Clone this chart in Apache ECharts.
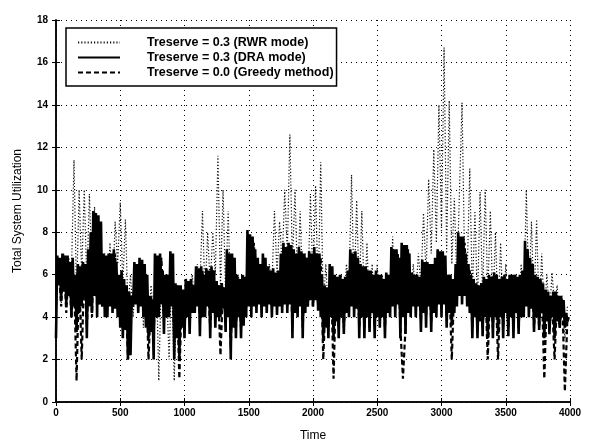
<!DOCTYPE html>
<html>
<head>
<meta charset="utf-8">
<script src="https://cdn.jsdelivr.net/npm/echarts@6/dist/echarts.min.js"></script>
<style>
  html, body { margin: 0; padding: 0; background: #fff; }
  #chart { width: 591px; height: 447px; }
</style>
</head>
<body>
<div id="chart"></div>
<script>
// DRA sampled every 10 time units, the other two every 20
const draStep = 10
const otherStep = 20
const xTicks = [0, 500, 1000, 1500, 2000, 2500, 3000, 3500, 4000]
const yTicks = [0, 2, 4, 6, 8, 10, 12, 14, 16, 18]

const rwrValues = [
  4.0, 6.5, 4.5, 7.0, 5.0, 6.8, 6.0, 11.4, 5.0, 10.0,
  6.0, 10.0, 5.5, 9.8, 6.0, 9.2, 5.0, 8.0, 4.5, 7.0,
  4.5, 7.5, 5.0, 8.5, 6.5, 9.4, 5.5, 8.6, 4.5, 6.0,
  4.0, 6.0, 4.2, 6.5, 3.5, 6.0, 3.5, 5.5, 4.0, 6.5,
  1.0, 6.0, 3.5, 5.5, 2.0, 6.0, 1.0, 5.5, 3.5, 5.0,
  4.0, 5.5, 4.0, 6.0, 4.5, 6.5, 5.5, 9.0, 5.0, 8.0,
  5.5, 8.0, 6.0, 11.6, 5.5, 10.0, 5.0, 9.0, 4.5, 6.5,
  4.0, 6.0, 4.0, 6.0, 4.5, 7.5, 5.0, 7.0, 4.5, 6.0,
  4.5, 6.0, 4.5, 6.5, 5.5, 9.0, 6.0, 8.5, 6.5, 10.0,
  7.0, 12.6, 6.5, 10.0, 5.5, 9.0, 5.0, 7.0, 5.0, 9.8,
  5.5, 10.2, 5.0, 11.3, 4.5, 6.5, 4.0, 6.0, 3.5, 5.8,
  4.0, 6.0, 4.5, 6.5, 5.5, 10.7, 5.0, 9.5, 5.0, 9.0,
  4.5, 7.5, 4.0, 6.5, 4.0, 6.5, 4.0, 6.0, 4.0, 6.0,
  4.5, 7.8, 4.5, 7.0, 4.0, 6.5, 4.0, 6.5, 4.5, 6.5,
  5.0, 7.0, 5.5, 8.9, 6.0, 10.5, 7.0, 11.9, 7.5, 14.0,
  8.0, 16.7, 7.0, 14.2, 6.5, 9.6, 5.5, 10.0, 14.1, 6.5,
  6.0, 11.0, 5.0, 9.0, 4.5, 9.9, 5.0, 10.0, 5.0, 9.0,
  4.5, 8.0, 4.0, 7.5, 4.0, 6.5, 4.0, 6.0, 4.0, 6.0,
  4.0, 6.5, 4.5, 10.0, 5.0, 8.5, 4.5, 8.6, 4.0, 7.0,
  4.0, 6.0, 4.0, 6.1, 4.5, 5.5, 3.5, 5.0, 3.0, 4.5
]

const draValues = [
  3.0, 6.9, 5.5, 6.8, 4.8, 7.0, 5.2, 6.9, 4.6, 6.9, 5.0, 6.6, 4.0, 6.8, 4.5, 6.0, 3.3, 6.5, 4.2, 6.4,
  4.5, 6.6, 5.0, 6.5, 3.0, 7.2, 4.5, 8.0, 4.2, 9.0, 5.0, 8.9, 4.0, 8.8, 4.6, 8.5, 4.5, 7.0, 4.0, 6.9,
  4.0, 7.0, 4.5, 7.0, 4.2, 7.2, 4.4, 6.6, 4.0, 6.0, 3.5, 6.2, 3.0, 5.8, 3.4, 5.5, 2.0, 5.2, 2.2, 5.0,
  4.5, 6.6, 4.6, 6.5, 4.2, 6.8, 4.5, 6.7, 4.0, 6.5, 3.5, 6.0, 3.0, 5.0, 3.3, 4.8, 2.0, 7.0, 4.0, 6.9,
  4.0, 7.0, 4.6, 6.2, 3.2, 6.0, 4.0, 6.0, 4.0, 7.1, 4.5, 7.0, 2.0, 5.6, 3.0, 5.5, 2.0, 5.5, 3.5, 5.3,
  3.0, 5.8, 4.0, 5.7, 3.2, 5.8, 4.2, 5.5, 4.2, 6.4, 4.5, 6.3, 3.1, 6.4, 4.0, 6.0, 4.0, 6.3, 4.5, 6.2,
  3.0, 6.4, 4.2, 6.2, 3.5, 5.7, 4.0, 5.5, 4.0, 5.6, 4.4, 5.4, 3.3, 7.2, 4.0, 7.0, 2.0, 7.0, 3.5, 6.8,
  3.0, 6.0, 4.0, 5.8, 3.0, 6.0, 3.6, 5.9, 4.0, 8.1, 4.5, 7.9, 4.0, 7.8, 4.5, 7.2, 4.2, 6.8, 4.6, 6.5,
  4.0, 7.0, 4.5, 6.8, 4.2, 6.4, 4.6, 6.2, 4.0, 6.3, 4.5, 6.1, 4.1, 6.2, 4.5, 7.0, 4.2, 7.5, 4.6, 7.3,
  4.2, 7.5, 4.6, 7.4, 3.0, 7.2, 4.2, 7.0, 4.0, 7.3, 4.5, 7.1, 3.0, 7.0, 4.2, 6.8, 4.5, 7.1, 4.8, 7.0,
  4.5, 7.3, 4.8, 7.0, 4.3, 7.0, 4.0, 6.0, 3.0, 5.5, 3.5, 5.4, 3.0, 6.5, 4.0, 6.4, 3.0, 6.0, 3.8, 5.9,
  3.0, 6.0, 4.0, 5.8, 3.2, 5.9, 4.2, 6.2, 4.0, 7.2, 4.5, 7.0, 4.0, 7.1, 4.4, 6.8, 3.0, 6.5, 4.0, 6.4,
  3.0, 6.4, 4.0, 6.2, 3.3, 6.2, 4.2, 6.0, 3.0, 6.2, 4.0, 6.0, 3.5, 6.0, 4.0, 5.8, 3.0, 6.1, 4.2, 6.0,
  4.0, 7.3, 4.5, 7.2, 4.0, 7.2, 4.6, 6.8, 3.0, 7.5, 4.0, 7.4, 3.2, 7.4, 4.2, 7.0, 4.0, 6.1, 4.5, 6.0,
  4.0, 6.0, 4.5, 5.9, 3.3, 6.7, 4.2, 6.6, 3.5, 6.6, 4.5, 6.5, 3.3, 6.5, 4.2, 6.8, 4.0, 7.2, 4.6, 7.1,
  4.0, 7.1, 4.6, 6.9, 3.5, 6.0, 4.2, 6.0, 3.6, 5.8, 4.2, 6.5, 4.5, 8.0, 5.0, 7.8, 4.6, 7.8, 5.0, 7.0,
  4.5, 6.5, 4.2, 6.0, 3.0, 5.8, 4.0, 5.6, 3.0, 5.5, 3.8, 5.6, 3.1, 5.9, 4.0, 5.8, 3.0, 6.0, 4.0, 5.9,
  3.0, 6.1, 4.0, 6.0, 3.2, 5.8, 4.0, 5.9, 3.0, 6.0, 4.2, 5.8, 3.1, 6.0, 4.0, 6.0, 3.0, 6.0, 4.2, 5.9,
  3.2, 6.0, 4.0, 6.2, 4.0, 7.6, 4.5, 7.2, 4.0, 6.8, 4.4, 6.5, 3.3, 6.0, 4.0, 5.9, 3.4, 5.8, 4.2, 5.6,
  3.0, 5.3, 3.8, 5.2, 3.2, 5.0, 4.0, 5.2, 3.0, 5.2, 3.8, 5.0, 3.5, 5.0, 4.0, 4.8, 3.5, 4.2, 3.8, 4.0
]

const greedyValues = [
  5.0, 6.5, 4.5, 6.8, 4.2, 6.5, 4.0, 6.0, 1.0, 6.2,
  2.0, 6.4, 3.5, 7.0, 4.0, 8.5, 4.5, 8.0, 4.5, 6.8,
  4.5, 6.8, 4.5, 7.0, 4.5, 5.8, 3.5, 5.5, 2.0, 5.0,
  4.5, 6.5, 4.5, 6.6, 4.5, 6.0, 2.0, 5.0, 3.0, 6.8,
  4.5, 6.8, 4.0, 6.0, 4.5, 6.8, 3.0, 5.5, 1.1, 5.2,
  3.5, 5.5, 4.0, 5.6, 4.5, 6.2, 4.0, 6.2, 4.5, 6.0,
  3.5, 6.2, 4.0, 5.5, 2.2, 5.4, 4.0, 7.0, 2.5, 6.8,
  3.5, 5.8, 3.5, 5.8, 4.5, 7.8, 4.5, 7.5, 4.5, 6.5,
  4.5, 6.8, 4.5, 6.2, 4.5, 6.0, 4.5, 6.0, 4.5, 7.2,
  4.5, 7.2, 3.5, 7.0, 4.5, 7.0, 3.5, 6.8, 4.5, 6.8,
  4.5, 7.0, 4.5, 6.8, 2.0, 5.2, 3.5, 6.2, 1.1, 5.8,
  3.5, 5.8, 3.5, 5.6, 4.5, 7.0, 4.5, 6.8, 3.5, 6.2,
  3.5, 6.2, 3.5, 6.0, 3.5, 6.0, 4.0, 5.8, 3.5, 5.9,
  4.5, 7.0, 4.5, 7.0, 3.5, 1.1, 3.5, 7.2, 4.5, 5.9,
  4.5, 5.8, 3.8, 6.5, 4.0, 6.4, 3.8, 6.2, 4.5, 7.0,
  4.5, 6.8, 4.0, 5.8, 2.0, 5.6, 4.8, 7.6, 5.0, 7.5,
  5.0, 6.2, 3.5, 5.6, 3.5, 5.3, 3.5, 5.6, 2.0, 5.8,
  3.5, 5.8, 2.0, 5.6, 3.5, 5.8, 3.5, 5.8, 3.5, 5.8,
  3.5, 5.8, 4.5, 7.2, 4.5, 6.5, 3.5, 5.8, 3.5, 5.5,
  1.1, 5.0, 3.5, 4.8, 2.0, 5.0, 3.5, 4.8, 0.5, 4.0
]

const seriesNames = [
  'Treserve = 0.3 (RWR mode)',
  'Treserve = 0.3 (DRA mode)',
  'Treserve = 0.0 (Greedy method)'
]

const toPoints = (vals, step) => vals.map((v, i) => [i * step, v])

const chart = echarts.init(document.getElementById('chart'), null, { renderer: 'canvas' })

const fontFamily = 'Liberation Sans, Arial, sans-serif'
const tickFont = { color: '#000', fontSize: 10, fontWeight: 'bold', fontFamily }
const gridLine = { show: true, lineStyle: { color: '#000', type: [1, 4], width: 1 } }
const frameAxis = { show: true, lineStyle: { color: '#000', width: 1.5 } }
const innerTick = { show: true, inside: true, length: 4, lineStyle: { color: '#000' } }

chart.setOption({
  animation: false,
  backgroundColor: '#fff',
  grid: { left: 56, right: 21, top: 20, bottom: 44 },
  legend: {
    orient: 'vertical',
    left: 66,
    top: 28,
    padding: [8, 3, 7, 11],
    itemGap: 2,
    itemWidth: 42,
    itemHeight: 13,
    backgroundColor: '#fff',
    borderColor: '#000',
    borderWidth: 1.5,
    itemStyle: { opacity: 0 },
    textStyle: { color: '#000', fontSize: 12.5, fontWeight: 'bold', fontFamily, padding: [0, 0, 0, 22] },
    data: seriesNames
  },
  xAxis: [{
    type: 'value',
    min: 0,
    max: 4000,
    interval: 500,
    name: 'Time',
    nameLocation: 'middle',
    nameGap: 28,
    nameTextStyle: { color: '#000', fontSize: 12, fontFamily },
    axisLine: frameAxis,
    axisTick: innerTick,
    axisLabel: Object.assign({ margin: 6, formatter: v => String(v) }, tickFont),
    splitLine: gridLine
  }, {
    type: 'value',
    position: 'top',
    min: 0,
    max: 4000,
    interval: 500,
    axisLine: frameAxis,
    axisTick: innerTick,
    axisLabel: { show: false },
    splitLine: { show: false }
  }],
  yAxis: [{
    type: 'value',
    min: 0,
    max: 18,
    interval: 2,
    name: 'Total System Utilization',
    nameLocation: 'middle',
    nameGap: 32,
    nameTextStyle: { color: '#000', fontSize: 12, fontFamily },
    axisLine: frameAxis,
    axisTick: innerTick,
    axisLabel: Object.assign({ margin: 8 }, tickFont),
    splitLine: gridLine
  }, {
    type: 'value',
    position: 'right',
    min: 0,
    max: 18,
    interval: 2,
    axisLine: frameAxis,
    axisTick: innerTick,
    axisLabel: { show: false },
    splitLine: { show: false }
  }],
  series: [{
    name: seriesNames[0],
    type: 'line',
    data: toPoints(rwrValues, otherStep),
    showSymbol: false,
    symbol: 'none',
    color: '#111',
    lineStyle: { color: '#111', width: 1.2, type: [1.2, 2] },
    z: 1
  }, {
    name: seriesNames[2],
    type: 'line',
    data: toPoints(greedyValues, otherStep),
    showSymbol: false,
    symbol: 'none',
    color: '#000',
    lineStyle: { color: '#000', width: 2.2, type: [5, 3] },
    z: 2
  }, {
    name: seriesNames[1],
    type: 'line',
    data: toPoints(draValues, draStep),
    showSymbol: false,
    symbol: 'none',
    color: '#000',
    lineStyle: { color: '#000', width: 2.6, type: 'solid' },
    z: 3
  }]
})
</script>
</body>
</html>
